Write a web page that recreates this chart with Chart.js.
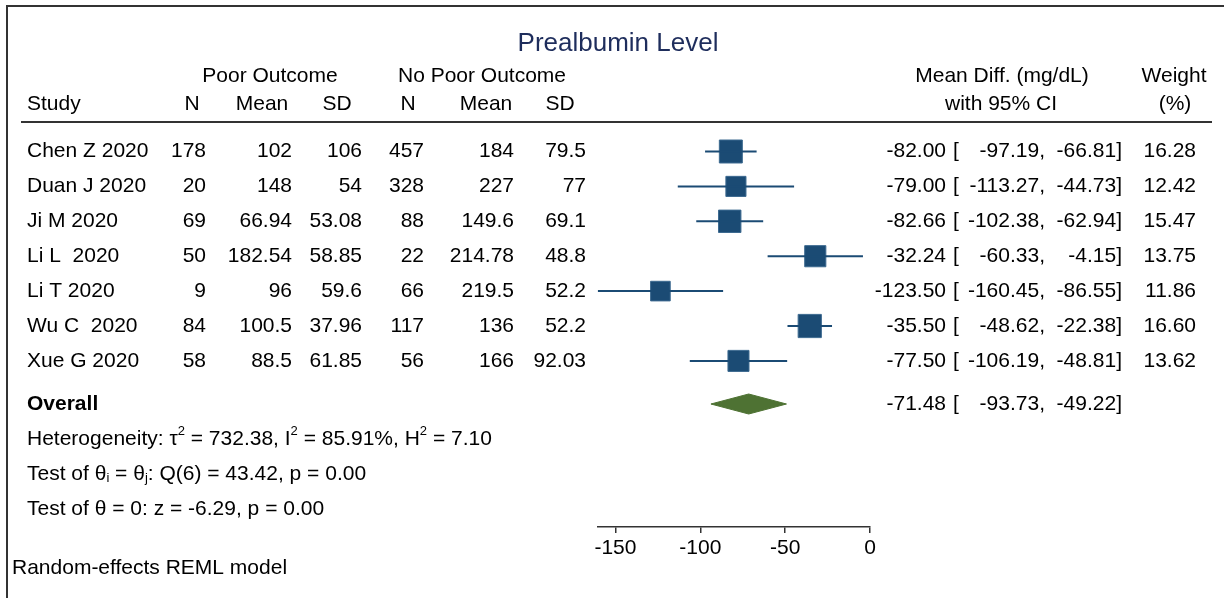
<!DOCTYPE html>
<html>
<head>
<meta charset="utf-8">
<script src="https://cdn.jsdelivr.net/npm/chart.js@4.4.0/dist/chart.umd.min.js"></script>
<style>
  body { margin: 0; background: #fff; }
  canvas { display: block; }
</style>
</head>
<body>
<canvas id="forest" width="1224" height="598"></canvas>
<script>
// study data
var studies  = ["Chen Z 2020", "Duan J 2020", "Ji M 2020", "Li L  2020", "Li T 2020", "Wu C  2020", "Xue G 2020"];
var poorN    = [178, 20, 69, 50, 9, 84, 58];
var poorMean = [102, 148, 66.94, 182.54, 96, 100.5, 88.5];
var poorSD   = [106, 54, 53.08, 58.85, 59.6, 37.96, 61.85];
var noN      = [457, 328, 88, 22, 66, 117, 56];
var noMean   = [184, 227, 149.6, 214.78, 219.5, 136, 166];
var noSD     = [79.5, 77, 69.1, 48.8, 52.2, 52.2, 92.03];
var meanDiff = [-82.00, -79.00, -82.66, -32.24, -123.50, -35.50, -77.50];
var ciLow    = [-97.19, -113.27, -102.38, -60.33, -160.45, -48.62, -106.19];
var ciHigh   = [-66.81, -44.73, -62.94, -4.15, -86.55, -22.38, -48.81];
var weights  = [16.28, 12.42, 15.47, 13.75, 11.86, 16.60, 13.62];

var overall  = { est: -71.48, lo: -93.73, hi: -49.22 };
var xTicks   = [-150, -100, -50, 0];

var BLUE = "#1b4b74";
var GREEN = "#4e7233";
var FONT = '"Liberation Sans", Arial, sans-serif';
var OVERALL_ROW = 8.235;

var datasets = [];
for (var i = 0; i < studies.length; i++) {
  datasets.push({
    type: 'scatter',
    data: [{x: ciLow[i], y: i + 1}, {x: ciHigh[i], y: i + 1}],
    showLine: true,
    borderColor: BLUE,
    borderWidth: 2,
    pointRadius: 0
  });
}
datasets.push({
  type: 'scatter',
  data: meanDiff.map(function(v, i) { return {x: v, y: i + 1}; }),
  pointStyle: 'rect',
  pointRadius: weights.map(function(w) { return 4.03 * Math.sqrt(w); }),
  backgroundColor: BLUE,
  borderColor: "#3d6a90",
  borderWidth: 1
});
var dh = 0.2865;
datasets.push({
  type: 'scatter',
  data: [
    {x: overall.lo, y: OVERALL_ROW},
    {x: overall.est, y: OVERALL_ROW - dh},
    {x: overall.hi, y: OVERALL_ROW},
    {x: overall.est, y: OVERALL_ROW + dh},
    {x: overall.lo, y: OVERALL_ROW}
  ],
  showLine: true,
  fill: 'shape',
  backgroundColor: GREEN,
  borderColor: GREEN,
  borderWidth: 1,
  pointRadius: 0
});

function rich(ctx, parts, x, y) {
  parts.forEach(function(p) {
    if (p.sup) {
      ctx.font = '13px ' + FONT;
      ctx.fillText(p.t, x, y - 7);
    } else if (p.sub) {
      ctx.font = '13px ' + FONT;
      ctx.fillText(p.t, x, y + 5);
    } else {
      ctx.font = '21px ' + FONT;
      ctx.fillText(p.t, x, y);
    }
    x += ctx.measureText(p.t).width;
  });
  ctx.font = '21px ' + FONT;
}

var tablePlugin = {
  id: 'table',
  afterDraw: function(chart) {
    var ctx = chart.ctx;
    var ys = chart.scales.y;
    ctx.save();

    // frame
    ctx.strokeStyle = "#333";
    ctx.lineWidth = 2;
    ctx.beginPath();
    ctx.moveTo(7, 598); ctx.lineTo(7, 6); ctx.lineTo(1224, 6);
    ctx.stroke();

    // header rule
    ctx.beginPath();
    ctx.moveTo(21, 122); ctx.lineTo(1212, 122);
    ctx.stroke();

    ctx.textBaseline = 'middle';
    ctx.fillStyle = "#1e2d5c";
    ctx.font = '26px ' + FONT;
    ctx.textAlign = 'center';
    ctx.fillText("Prealbumin Level", 618, 44);

    ctx.fillStyle = "#000";
    ctx.font = '21px ' + FONT;
    ctx.fillText("Poor Outcome", 270, 76);
    ctx.fillText("No Poor Outcome", 482, 76);
    ctx.fillText("Mean Diff. (mg/dL)", 1002, 76);
    ctx.fillText("Weight", 1174, 76);
    ctx.fillText("N", 192, 104);
    ctx.fillText("Mean", 262, 104);
    ctx.fillText("SD", 337, 104);
    ctx.fillText("N", 408, 104);
    ctx.fillText("Mean", 486, 104);
    ctx.fillText("SD", 560, 104);
    ctx.fillText("with 95% CI", 1001, 104);
    ctx.fillText("(%)", 1175, 104);
    ctx.textAlign = 'left';
    ctx.fillText("Study", 27, 104);

    for (var i = 0; i < studies.length; i++) {
      var y = ys.getPixelForValue(i + 1);
      ctx.textAlign = 'left';
      ctx.fillText(studies[i], 27, y);
      ctx.textAlign = 'right';
      ctx.fillText(String(poorN[i]), 206, y);
      ctx.fillText(String(poorMean[i]), 292, y);
      ctx.fillText(String(poorSD[i]), 362, y);
      ctx.fillText(String(noN[i]), 424, y);
      ctx.fillText(String(noMean[i]), 514, y);
      ctx.fillText(String(noSD[i]), 586, y);
      ctx.fillText(meanDiff[i].toFixed(2), 946, y);
      ctx.fillText(ciLow[i].toFixed(2) + ",", 1045, y);
      ctx.fillText(ciHigh[i].toFixed(2) + "]", 1122, y);
      ctx.fillText(weights[i].toFixed(2), 1196, y);
      ctx.textAlign = 'left';
      ctx.fillText("[", 953, y);
    }

    var oy = ys.getPixelForValue(OVERALL_ROW);
    ctx.font = 'bold 21px ' + FONT;
    ctx.fillText("Overall", 27, oy);
    ctx.font = '21px ' + FONT;
    ctx.fillText("[", 953, oy);
    ctx.textAlign = 'right';
    ctx.fillText(overall.est.toFixed(2), 946, oy);
    ctx.fillText(overall.lo.toFixed(2) + ",", 1045, oy);
    ctx.fillText(overall.hi.toFixed(2) + "]", 1122, oy);
    ctx.textAlign = 'left';

    rich(ctx, [{t: "Heterogeneity: \u03C4"}, {t: "2", sup: true}, {t: " = 732.38, I"}, {t: "2", sup: true},
               {t: " = 85.91%, H"}, {t: "2", sup: true}, {t: " = 7.10"}], 27, ys.getPixelForValue(OVERALL_ROW + 1));
    rich(ctx, [{t: "Test of \u03B8"}, {t: "i", sub: true}, {t: " = \u03B8"}, {t: "j", sub: true},
               {t: ": Q(6) = 43.42, p = 0.00"}], 27, ys.getPixelForValue(OVERALL_ROW + 2));
    rich(ctx, [{t: "Test of \u03B8 = 0: z = -6.29, p = 0.00"}], 27, ys.getPixelForValue(OVERALL_ROW + 3));

    ctx.fillText("Random-effects REML model", 12, 568);
    ctx.restore();
  }
};

var ctx = document.getElementById('forest');
var chart = new Chart(ctx, {
  type: 'scatter',
  data: { datasets: datasets },
  plugins: [tablePlugin],
  options: {
    responsive: false,
    animation: false,
    layout: { padding: { left: 597.7, right: 354, top: 134.05, bottom: 31 } },
    plugins: { legend: { display: false }, tooltip: { enabled: false } },
    scales: {
      x: {
        type: 'linear',
        min: -160.45,
        max: 0,
        afterBuildTicks: function(scale) {
          scale.ticks = xTicks.map(function(v) { return {value: v}; });
        },
        afterFit: function(scale) { scale.height = 40; },
        border: { display: true, color: "#333", width: 1.5 },
        grid: { drawOnChartArea: false, drawTicks: true, tickLength: 6, color: "#333", lineWidth: 1.5 },
        ticks: { color: "#000", padding: 3, font: { family: FONT, size: 21 } }
      },
      y: {
        type: 'linear',
        display: false,
        reverse: true,
        min: 0.5,
        max: 11.759
      }
    }
  }
});
</script>
</body>
</html>
